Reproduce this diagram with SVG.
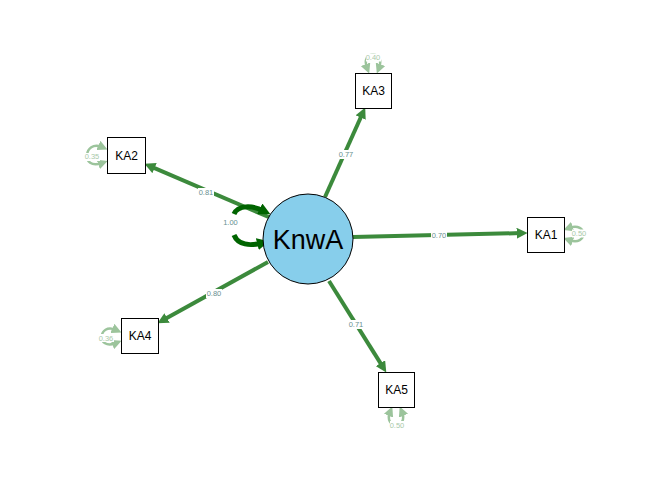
<svg xmlns="http://www.w3.org/2000/svg" width="672" height="480" viewBox="0 0 672 480">
  <style>
    .box { fill: #ffffff; stroke: #000000; stroke-width: 1; }
    .boxlabel { font-family: "Liberation Sans", Arial, sans-serif; font-size: 12px; fill: #000000; text-anchor: middle; dominant-baseline: central; }
    .latlabel { font-family: "Liberation Sans", Arial, sans-serif; font-size: 27px; fill: #000000; text-anchor: middle; dominant-baseline: central; }
    .edge { fill: none; stroke: #3c8a3c; stroke-width: 4; marker-end: url(#headMain); }
    .var { fill: none; stroke: #006400; stroke-width: 5; marker-end: url(#headVar); }
    .resid { fill: none; stroke: #9cc49c; stroke-width: 2.5; marker-start: url(#headRes); marker-end: url(#headRes); }
    .elab { font-family: "Liberation Sans", Arial, sans-serif; font-size: 7.5px; fill: #6a9090; text-anchor: middle; dominant-baseline: central; }
    .rlab { font-family: "Liberation Sans", Arial, sans-serif; font-size: 7.5px; fill: #a9c9a9; text-anchor: middle; dominant-baseline: central; }
    .lbg { fill: #ffffff; }
  </style>
  <defs>
    <marker id="headMain" viewBox="0 0 10 10" refX="4" refY="5" markerWidth="11" markerHeight="11" markerUnits="userSpaceOnUse" orient="auto">
      <path d="M0,0 L10,5 L0,10 z" fill="#3c8a3c"/>
    </marker>
    <marker id="headVar" viewBox="0 0 10 10" refX="4" refY="5" markerWidth="12" markerHeight="12" markerUnits="userSpaceOnUse" orient="auto">
      <path d="M0,0 L10,5 L0,10 z" fill="#006400"/>
    </marker>
    <marker id="headRes" viewBox="0 0 10 10" refX="4" refY="5" markerWidth="10" markerHeight="10" markerUnits="userSpaceOnUse" orient="auto-start-reverse">
      <path d="M0,0 L10,5 L0,10 z" fill="#9cc49c"/>
    </marker>
  </defs>

  <rect width="672" height="480" fill="#ffffff"/>

  <g id="connectors">
    <!-- loadings -->
    <path class="edge" d="M353,237 L521,233.1"/>
    <path class="edge" d="M271,218 L150.5,166.4"/>
    <path class="edge" d="M325,197 L362.5,113.5"/>
    <path class="edge" d="M268,262 L163.2,320.1"/>
    <path class="edge" d="M329,281 L382.8,366.9"/>
    <!-- latent variance -->
    <path class="var" d="M234,214 C238,205 252,205 264,211"/>
    <path class="var" d="M234,235 C238,245 250,246 262,243"/>
    <!-- residual variances -->
    <path class="resid" d="M102,147 C84,139 80,171 102,163"/>
    <path class="resid" d="M569,228 C588,221 588,247 569,240"/>
    <path class="resid" d="M367,68 C360,50 386,50 379,68"/>
    <path class="resid" d="M116,330 C98,322 96,351 116,343"/>
    <path class="resid" d="M390,412 C383,429 409,429 402,412"/>

    <!-- loading labels -->
    <rect class="lbg" x="431" y="231" width="16" height="9"/>
    <text class="elab" x="439" y="235.5">0.70</text>
    <rect class="lbg" x="198" y="188" width="16" height="9"/>
    <text class="elab" x="206" y="192.5">0.81</text>
    <rect class="lbg" x="338" y="150" width="16" height="9"/>
    <text class="elab" x="346" y="154.5">0.77</text>
    <rect class="lbg" x="206" y="289" width="16" height="9"/>
    <text class="elab" x="214" y="293.5">0.80</text>
    <rect class="lbg" x="348" y="320" width="16" height="9"/>
    <text class="elab" x="356" y="324.5">0.71</text>
    <rect class="lbg" x="222" y="218" width="17" height="10"/>
    <text class="elab" x="230.5" y="222.5">1.00</text>

    <!-- residual labels -->
    <rect class="lbg" x="85" y="153" width="15" height="8"/>
    <text class="rlab" x="92" y="156.5">0.35</text>
    <rect class="lbg" x="572" y="229.5" width="15" height="8"/>
    <text class="rlab" x="579" y="233.5">0.50</text>
    <rect class="lbg" x="366" y="53.5" width="15" height="8"/>
    <text class="rlab" x="373" y="57.5">0.40</text>
    <rect class="lbg" x="99" y="334" width="15" height="8"/>
    <text class="rlab" x="106" y="338">0.36</text>
    <rect class="lbg" x="390" y="421" width="15" height="8"/>
    <text class="rlab" x="397" y="425">0.50</text>
  </g>

  <g id="KnwA">
    <circle cx="308" cy="239" r="45" fill="#87ceeb" stroke="#000000" stroke-width="1"/>
    <text class="latlabel" x="308" y="240">KnwA</text>
  </g>
  <g id="KA1">
    <rect class="box" x="527.5" y="217.5" width="37" height="35"/>
    <text class="boxlabel" x="546" y="235">KA1</text>
  </g>
  <g id="KA2">
    <rect class="box" x="107.5" y="137.5" width="38" height="36"/>
    <text class="boxlabel" x="126.5" y="155.5">KA2</text>
  </g>
  <g id="KA3">
    <rect class="box" x="355.5" y="73.5" width="36" height="35"/>
    <text class="boxlabel" x="373.5" y="91">KA3</text>
  </g>
  <g id="KA4">
    <rect class="box" x="121.5" y="318.5" width="37" height="35"/>
    <text class="boxlabel" x="140" y="336">KA4</text>
  </g>
  <g id="KA5">
    <rect class="box" x="378.5" y="372.5" width="36" height="35"/>
    <text class="boxlabel" x="396.5" y="390">KA5</text>
  </g>
</svg>
